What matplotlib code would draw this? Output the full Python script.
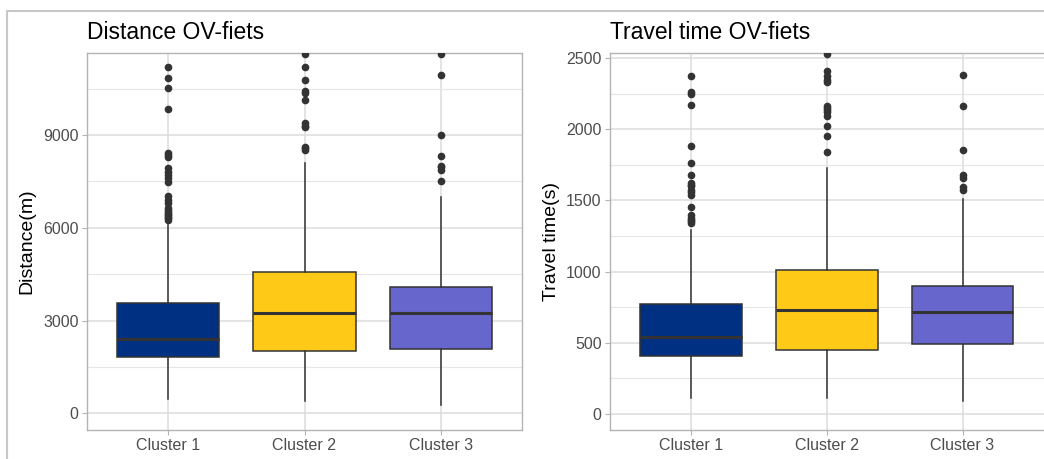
import numpy as np
import matplotlib
matplotlib.use('Agg')
from matplotlib import pyplot as plt
from matplotlib.lines import Line2D
from matplotlib.ticker import MultipleLocator

plt.rcParams['font.family'] = ['Liberation Sans', 'DejaVu Sans']

# Datos
clusters = ['Cluster 1', 'Cluster 2', 'Cluster 3']
colores = ['#003082', '#FFC917', '#6666CC']

# Distancia (m)
dist_q1 = [1830, 2024, 2069]
dist_med = [2412, 3233, 3233]
dist_q3 = [3576, 4578, 4074]
dist_lo = [453, 407, 268]
dist_hi = [6100, 8083, 7003]
dist_out = [
    [11186, 10850, 10507, 9838, 8425, 8350, 8277, 7921, 7800, 7704, 7600, 7488,
     7035, 6900, 6789, 6650, 6573, 6500, 6450, 6411, 6350, 6300, 6249],
    [11607, 11186, 10766, 10420, 10350, 10129, 9376, 9300, 9247, 8600, 8568, 8512],
    [11607, 10928, 8988, 8319, 7996, 7950, 7867, 7520],
]

# Tiempo de viaje (s)
tt_q1 = [405, 452, 492]
tt_med = [538, 732, 713]
tt_q3 = [775, 1008, 901]
tt_lo = [112, 112, 93]
tt_hi = [1290, 1727, 1510]
tt_out = [
    [2376, 2261, 2247, 2172, 1879, 1763, 1680, 1622, 1610, 1598, 1575, 1560,
     1540, 1451, 1399, 1376, 1365, 1352, 1340],
    [2530, 2406, 2371, 2343, 2330, 2160, 2150, 2137, 2120, 2095, 2024, 1949, 1840],
    [2383, 2160, 1851, 1680, 1657, 1591, 1575],
]

W, H = 1044, 459
fig = plt.figure(figsize=(W / 100, H / 100), dpi=100)

# marco gris de la captura
fig.add_artist(Line2D([7 / W, 7 / W], [0, 1 - 10.5 / H], color='#C8C8C8', lw=1.5))
fig.add_artist(Line2D([7 / W, 1], [1 - 10.5 / H, 1 - 10.5 / H], color='#C8C8C8', lw=1.5))


def caja(ax, q1, med, q3, lo, hi, out, titulo, ylabel, ylim, mayor, lab_x):
    stats = []
    for i in range(len(clusters)):
        stats.append(dict(med=med[i], q1=q1[i], q3=q3[i], whislo=lo[i],
                          whishi=hi[i], fliers=out[i]))
    pos = np.arange(1, len(clusters) + 1)
    bp = ax.bxp(stats, positions=pos, widths=0.75, patch_artist=True,
                showcaps=False, zorder=3,
                boxprops=dict(edgecolor='#333333', linewidth=1.1),
                medianprops=dict(color='#333333', linewidth=2.2),
                whiskerprops=dict(color='#333333', linewidth=1.1),
                flierprops=dict(marker='o', markerfacecolor='#333333',
                                markeredgecolor='#333333', markersize=4.5))
    for p, c in zip(bp['boxes'], colores):
        p.set_facecolor(c)

    ax.set_xlim(0.4, 3.6)
    ax.set_ylim(*ylim)
    ax.set_xticks(pos)
    ax.set_xticklabels(clusters)
    ax.yaxis.set_major_locator(MultipleLocator(mayor))
    ax.yaxis.set_minor_locator(MultipleLocator(mayor / 2))
    ax.grid(which='major', color='#DDDDDD', lw=1.1, zorder=0)
    ax.grid(which='minor', axis='y', color='#E6E6E6', lw=0.8, zorder=0)
    ax.set_axisbelow(True)
    ax.tick_params(which='major', color='#B3B3B3', length=3.3, width=0.8,
                   labelsize=11.5, labelcolor='#4D4D4D', pad=2.5)
    ax.tick_params(which='minor', length=0)
    for s in ax.spines.values():
        s.set_color('#B3B3B3')
        s.set_linewidth(1.0)
    ax.set_title(titulo, loc='left', fontsize=16.5, pad=10)
    ax.set_ylabel(ylabel, fontsize=14)
    ax.yaxis.set_label_coords(lab_x, 0.5)


ax1 = fig.add_axes([86.7 / W, 29 / H, 435.6 / W, 377 / H])
caja(ax1, dist_q1, dist_med, dist_q3, dist_lo, dist_hi, dist_out,
     'Distance OV-fiets', 'Distance(m)', (-540, 11650), 3000, -0.1175)

ax2 = fig.add_axes([609.6 / W, 29 / H, 434.4 / W, 377 / H])
caja(ax2, tt_q1, tt_med, tt_q3, tt_lo, tt_hi, tt_out,
     'Travel time OV-fiets', 'Travel time(s)', (-112, 2535), 500, -0.114)
ax2.spines['right'].set_visible(False)

fig.savefig('out.png', dpi=100)
